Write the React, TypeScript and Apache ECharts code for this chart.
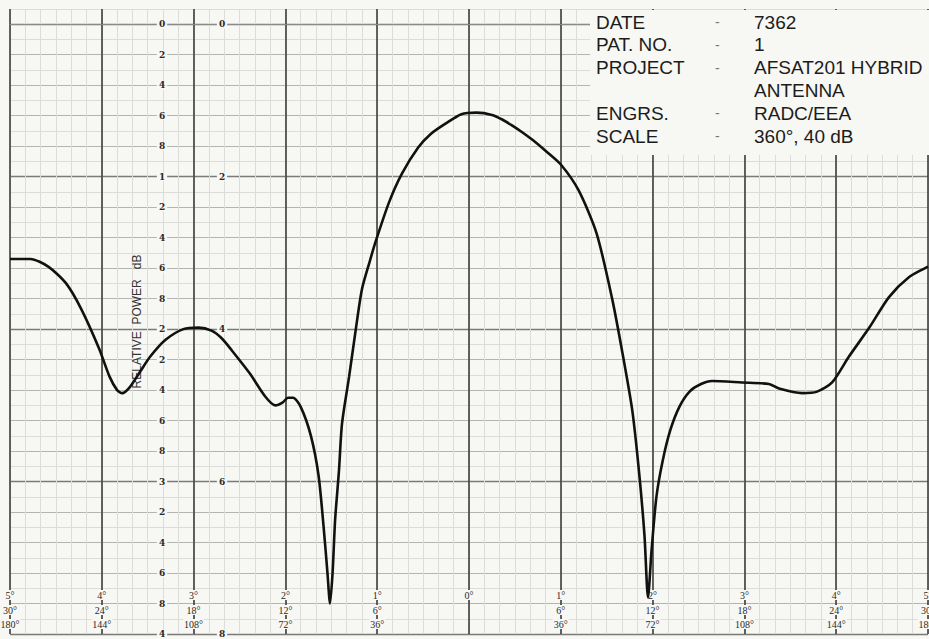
import { useEffect, useRef } from "react";
import * as echarts from "echarts";

// Antenna pattern trace: azimuth (deg, 360° scale) vs relative power (dB down)
const angleDeg = [
  -180, -172, -165, -158, -152, -145, -141, -138, -136, -133, -129, -125, -119, -112, -106, -101, -97, -93,
  -86, -80, -76, -73, -71, -69, -66, -62, -59, -57, -55.5, -54.5, -53.5, -52.5, -51, -49.8, -47, -44.3, -42,
  -39, -36.5, -31.4, -26.3, -20, -15, -9, -3, 3, 9, 13, 17, 21, 25, 30, 36, 43, 50, 56, 60, 64, 66.7, 68.8, 70.2,
  71.6, 73.5, 76, 79, 82.5, 86.5, 91, 95.3, 107, 117.6, 121.6, 130.6, 136.5, 142.4, 149, 157, 164.7,
  172.5, 180,
];
const relPowerDb = [
  15.4, 15.4, 15.9, 17.0, 18.7, 21.3, 23.1, 24.0, 24.2, 23.8, 22.8, 21.8, 20.7, 20.0, 19.9, 20.1, 20.6, 21.4,
  22.9, 24.4, 25.0, 24.8, 24.5, 24.5, 25.1, 27.0, 29.6, 33.0, 36.0, 38.0, 36.0, 32.5, 29.3, 26.2, 23.1, 19.9, 17.4,
  15.6, 14.2, 11.7, 9.8, 8.1, 7.2, 6.5, 5.9, 5.8, 5.95, 6.25, 6.65, 7.1, 7.6, 8.3, 9.2, 10.9, 13.7, 17.9, 21.4, 25.3, 29.4, 33.5, 37.6,
  34.5, 31.0, 28.6, 26.6, 25.1, 24.1, 23.6, 23.4, 23.5, 23.6, 23.9, 24.2, 24.1, 23.5, 21.8, 19.9, 17.9,
  16.6, 15.9,
];

// Tick label rows under the major azimuth lines (-180 .. 180, every 36°)
const rowDivisions = ["5°", "4°", "3°", "2°", "1°", "0°", "1°", "2°", "3°", "4°", "5°"];
const rowScale30 = ["30°", "24°", "18°", "12°", "6°", "", "6°", "12°", "18°", "24°", "30°"];
const rowScale360 = ["180°", "144°", "108°", "72°", "36°", "", "36°", "72°", "108°", "144°", "180°"];

// dB labels (every 2 dB for 0..40) and the second column (every 10 dB)
const dbLabels40 = ["0", "2", "4", "6", "8", "1", "2", "4", "6", "8", "2", "2", "4", "6", "8", "3", "2", "4", "6", "8", "4"];
const dbLabels80 = ["0", "2", "4", "6", "8"];

const infoKeys = ["DATE", "PAT. NO.", "PROJECT", "", "ENGRS.", "SCALE"];
const infoValues = ["7362", "1", "AFSAT201 HYBRID", "ANTENNA", "RADC/EEA", "360°, 40 dB"];

const BG = "#f7f7f4";

export default function App() {
  const ref = useRef<HTMLDivElement>(null);

  useEffect(() => {
    const chart = echarts.init(ref.current!, null, { renderer: "svg" });
    const data = angleDeg.map((a, i) => [a, relPowerDb[i]]);
    const T = "rgba(0,0,0,0)";
    const faint = "#dcdcd8";
    const mid = "#b4b4b0";
    const dark = "#7a7a78";

    const baseX: any = {
      type: "value",
      min: -180,
      max: 180,
      position: "bottom",
      axisLine: { show: false },
      axisTick: { show: false },
      axisLabel: { show: false },
      splitLine: { show: false },
    };
    const baseY: any = {
      type: "value",
      min: -1,
      max: 40,
      interval: 1,
      inverse: true,
      position: "left",
      axisLine: { show: false },
      axisTick: { show: false },
      axisLabel: { show: false },
      splitLine: { show: false },
    };
    const labelRich = {
      t: {
        fontFamily: "Liberation Serif",
        fontSize: 10,
        color: "#2a2a2a",
        backgroundColor: BG,
        padding: [0, 1],
      },
    };
    const rowAxis = (offset: number, labels: string[]) => ({
      ...baseX,
      interval: 36,
      offset,
      axisLabel: {
        show: true,
        margin: 0,
        verticalAlign: "middle",
        showMinLabel: true,
        showMaxLabel: true,
        formatter: (v: number) => {
          const s = labels[Math.round((v + 180) / 36)];
          return s ? `{t|${s}}` : "";
        },
        rich: labelRich,
      },
    });
    const yLabelRich = {
      t: {
        fontFamily: "DejaVu Serif",
        fontSize: 9,
        fontWeight: "bold",
        color: "#2a2a2a",
        backgroundColor: BG,
        padding: [0, 2],
      },
    };

    chart.setOption({
      animation: false,
      backgroundColor: BG,
      grid: {
        left: 10,
        right: 1,
        top: 9,
        bottom: 5,
        containLabel: false,
        outerBoundsMode: "none",
      },
      xAxis: [
        {
          ...baseX,
          interval: 6,
          splitLine: { show: true, lineStyle: { color: faint, width: 1 } },
        },
        {
          ...baseX,
          interval: 36,
          splitLine: { show: true, lineStyle: { color: "#3c3c3a", width: 1.6 } },
        },
        {
          ...baseX,
          position: "top",
          axisLine: { show: true, lineStyle: { color: "#8a8a88", width: 1 } },
        },
        rowAxis(-39, rowDivisions),
        rowAxis(-24, rowScale30),
        rowAxis(-10, rowScale360),
      ],
      yAxis: [
        {
          ...baseY,
          splitLine: {
            show: true,
            lineStyle: { color: [faint, T, faint, mid, faint, mid, faint, mid, faint, mid], width: 1 },
          },
        },
        {
          ...baseY,
          splitLine: {
            show: true,
            lineStyle: { color: [T, dark, T, T, T, T, T, T, T, T], width: 1.3 },
          },
        },
        {
          ...baseY,
          offset: -152,
          name: "RELATIVE  POWER   dB",
          nameLocation: "middle",
          nameRotate: 90,
          nameGap: 19,
          nameTextStyle: { fontFamily: "Liberation Sans", fontSize: 12, color: "#333" },
          axisLabel: {
            show: true,
            margin: 0,
            align: "center",
            verticalAlign: "middle",
            showMinLabel: true,
            showMaxLabel: true,
            formatter: (v: number) => {
              if (v < 0 || v % 2 !== 0) return "";
              return `{t|${dbLabels40[v / 2]}}`;
            },
            rich: yLabelRich,
          },
        },
        {
          ...baseY,
          offset: -212,
          axisLabel: {
            show: true,
            margin: 0,
            align: "center",
            verticalAlign: "middle",
            showMinLabel: true,
            showMaxLabel: true,
            formatter: (v: number) => {
              if (v < 0 || v % 10 !== 0) return "";
              return `{t|${dbLabels80[v / 10]}}`;
            },
            rich: yLabelRich,
          },
        },
      ],
      series: [
        {
          type: "line",
          xAxisIndex: 0,
          yAxisIndex: 0,
          data,
          symbol: "none",
          smooth: 0.25,
          z: 5,
          lineStyle: { color: "#111", width: 2.6 },
        },
      ],
      graphic: [
        {
          type: "rect",
          z: 10,
          shape: { x: 590, y: 10, width: 339, height: 145 },
          style: { fill: BG },
        },
        ...infoKeys.map((k, i) => ({
          type: "group",
          z: 11,
          children: [
            {
              type: "text",
              z: 11,
              style: {
                text: k,
                x: 596,
                y: 22 + i * 22.8,
                fill: "#1c1c1c",
                font: "19px 'Liberation Sans'",
                verticalAlign: "middle",
              },
            },
            {
              type: "text",
              z: 11,
              style: {
                text: k ? "-" : "",
                x: 715,
                y: 22 + i * 22.8,
                fill: "#777",
                font: "14px 'Liberation Sans'",
                verticalAlign: "middle",
              },
            },
            {
              type: "text",
              z: 11,
              style: {
                text: infoValues[i],
                x: 754,
                y: 22 + i * 22.8,
                fill: "#1c1c1c",
                font: "19px 'Liberation Sans'",
                verticalAlign: "middle",
              },
            },
          ],
        })),
      ],
    });

    return () => chart.dispose();
  }, []);

  return (
    <div
      ref={ref}
      style={{ position: "fixed", left: 0, top: 0, width: 929, height: 639 }}
    />
  );
}
